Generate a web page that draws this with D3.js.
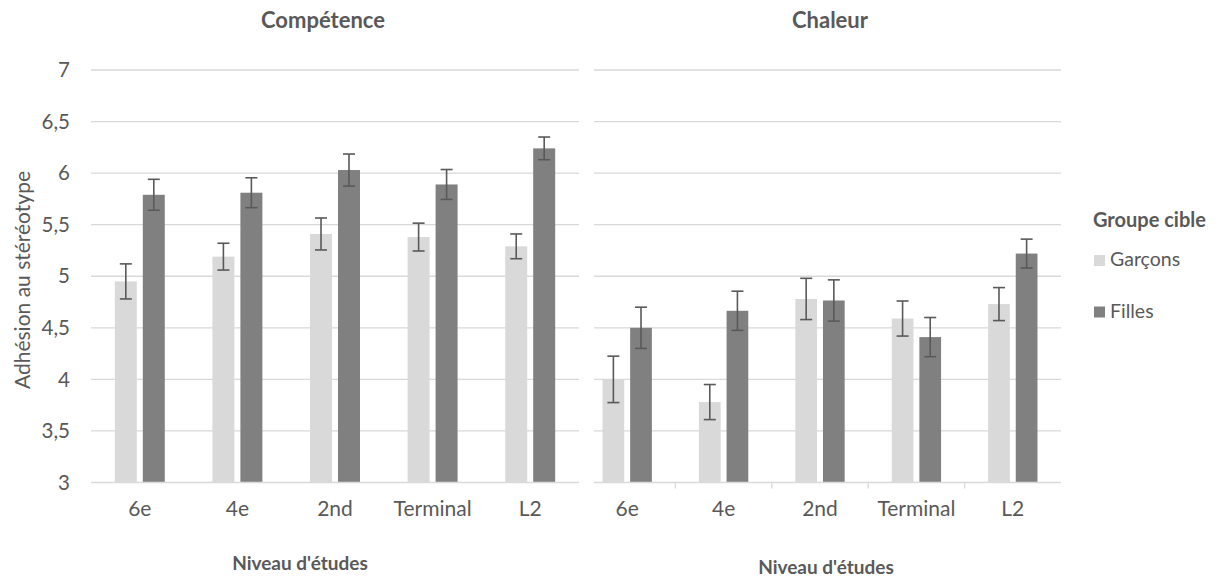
<!DOCTYPE html>
<html><head><meta charset="utf-8">
<script src="https://cdn.jsdelivr.net/npm/d3@7"></script>
<style>body{margin:0;background:#fff}svg{display:block}text{font-family:Lato,"Open Sans",sans-serif;fill:#595959}</style>
</head><body><svg id="c" width="1221" height="579"></svg>
<script>
const categories = ["6e","4e","2nd","Terminal","L2"];
const series = ["Garçons","Filles"];
const panels = ["Compétence","Chaleur"];
const yTicks = [3,3.5,4,4.5,5,5.5,6,6.5,7];
// Compétence
const compGarcons = [4.95,5.19,5.41,5.38,5.29];
const compGarconsErr = [0.17,0.13,0.155,0.135,0.12];
const compFilles = [5.79,5.81,6.03,5.89,6.24];
const compFillesErr = [0.15,0.145,0.155,0.145,0.11];
// Chaleur
const chalGarcons = [4.00,3.78,4.78,4.59,4.73];
const chalGarconsErr = [0.225,0.17,0.20,0.17,0.16];
const chalFilles = [4.50,4.665,4.765,4.41,5.22];
const chalFillesErr = [0.20,0.19,0.20,0.19,0.14];

const colors = {"Garçons":"#d9d9d9","Filles":"#808080"};
const svg = d3.select("#c");
const y = d3.scaleLinear().domain([3,7]).range([482.5,70]);
const fmt = v => String(v).replace(".",",");

const panelDefs = [
  {title:panels[0], range:[91,579], grid:[91,579], vals:[compGarcons,compFilles], errs:[compGarconsErr,compFillesErr], ticks:false, titleX:323, xTitleX:300, xTitleY:570},
  {title:panels[1], range:[579,1061], grid:[594,1061], vals:[chalGarcons,chalFilles], errs:[chalGarconsErr,chalFillesErr], ticks:true, titleX:830, xTitleX:826, xTitleY:574}
];

panelDefs.forEach(p => {
  const g = svg.append("g");
  const x0 = d3.scaleBand().domain(categories).range(p.range).padding(0);
  const bw = x0.bandwidth();
  const x1 = d3.scaleBand().domain(series).range([bw*0.244, bw*0.756]).paddingInner(0.214).paddingOuter(0);
  // gridlines
  g.selectAll("line.grid").data(yTicks.slice(1)).join("line")
    .attr("x1",p.grid[0]).attr("x2",p.grid[1])
    .attr("y1",d=>y(d)).attr("y2",d=>y(d))
    .attr("stroke","#d9d9d9").attr("stroke-width",1.3);
  // bars
  series.forEach((s,si) => {
    const data = categories.map((c,i)=>({c, v:p.vals[si][i], e:p.errs[si][i]}));
    g.selectAll("rect.s"+si).data(data).join("rect")
      .attr("x",d=>x0(d.c)+x1(s)).attr("width",x1.bandwidth())
      .attr("y",d=>y(d.v)).attr("height",d=>y(3)-y(d.v))
      .attr("fill",colors[s]);
  });
  // axis line
  g.append("line").attr("x1",p.grid[0]).attr("x2",p.grid[1]).attr("y1",y(3)).attr("y2",y(3))
    .attr("stroke","#d9d9d9").attr("stroke-width",1.3);
  if (p.ticks) {
    g.selectAll("line.tk").data(categories.slice(1)).join("line")
      .attr("x1",d=>x0(d)).attr("x2",d=>x0(d)).attr("y1",y(3)).attr("y2",y(3)+6)
      .attr("stroke","#d9d9d9").attr("stroke-width",1.3);
  }
  // error bars
  series.forEach((s,si) => {
    const data = categories.map((c,i)=>({c, v:p.vals[si][i], e:p.errs[si][i]}));
    const cx = d => x0(d.c)+x1(s)+x1.bandwidth()/2;
    const eg = g.append("g").attr("stroke","#595959").attr("stroke-width",1.6);
    eg.selectAll("line.v").data(data).join("line")
      .attr("x1",cx).attr("x2",cx).attr("y1",d=>y(d.v+d.e)).attr("y2",d=>y(d.v-d.e));
    eg.selectAll("line.t").data(data).join("line")
      .attr("x1",d=>cx(d)-6).attr("x2",d=>cx(d)+6).attr("y1",d=>y(d.v+d.e)).attr("y2",d=>y(d.v+d.e));
    eg.selectAll("line.b").data(data).join("line")
      .attr("x1",d=>cx(d)-6).attr("x2",d=>cx(d)+6).attr("y1",d=>y(d.v-d.e)).attr("y2",d=>y(d.v-d.e));
  });
  // category labels
  g.selectAll("text.cat").data(categories).join("text")
    .attr("x",d=>x0(d)+bw/2).attr("y",516).attr("text-anchor","middle")
    .style("font-size","21px").text(d=>d);
  // title
  g.append("text").attr("x",p.titleX).attr("y",28).attr("text-anchor","middle")
    .style("font-size","22px").style("font-weight","bold").text(p.title);
  g.append("text").attr("x",p.xTitleX).attr("y",p.xTitleY).attr("text-anchor","middle")
    .style("font-size","19px").style("font-weight","bold").text("Niveau d'études");
});

// y tick labels
svg.selectAll("text.yt").data(yTicks).join("text")
  .attr("x",70).attr("y",d=>y(d)).attr("dy","0.35em").attr("text-anchor","end")
  .style("font-size","20.5px").text(d=>fmt(d));
// y title
svg.append("text").attr("transform","translate(30,280) rotate(-90)").attr("text-anchor","middle")
  .style("font-size","21px").text("Adhésion au stéréotype");

// legend
const lg = svg.append("g");
lg.append("text").attr("x",1093).attr("y",227).style("font-size","20px").style("font-weight","bold").text("Groupe cible");
series.forEach((s,i) => {
  const yy = 260 + i*51.5;
  lg.append("rect").attr("x",1094).attr("y",yy-5).attr("width",11).attr("height",11).attr("fill",colors[s]);
  lg.append("text").attr("x",1110).attr("y",yy+6).style("font-size","19.5px").text(s);
});
</script></body></html>
